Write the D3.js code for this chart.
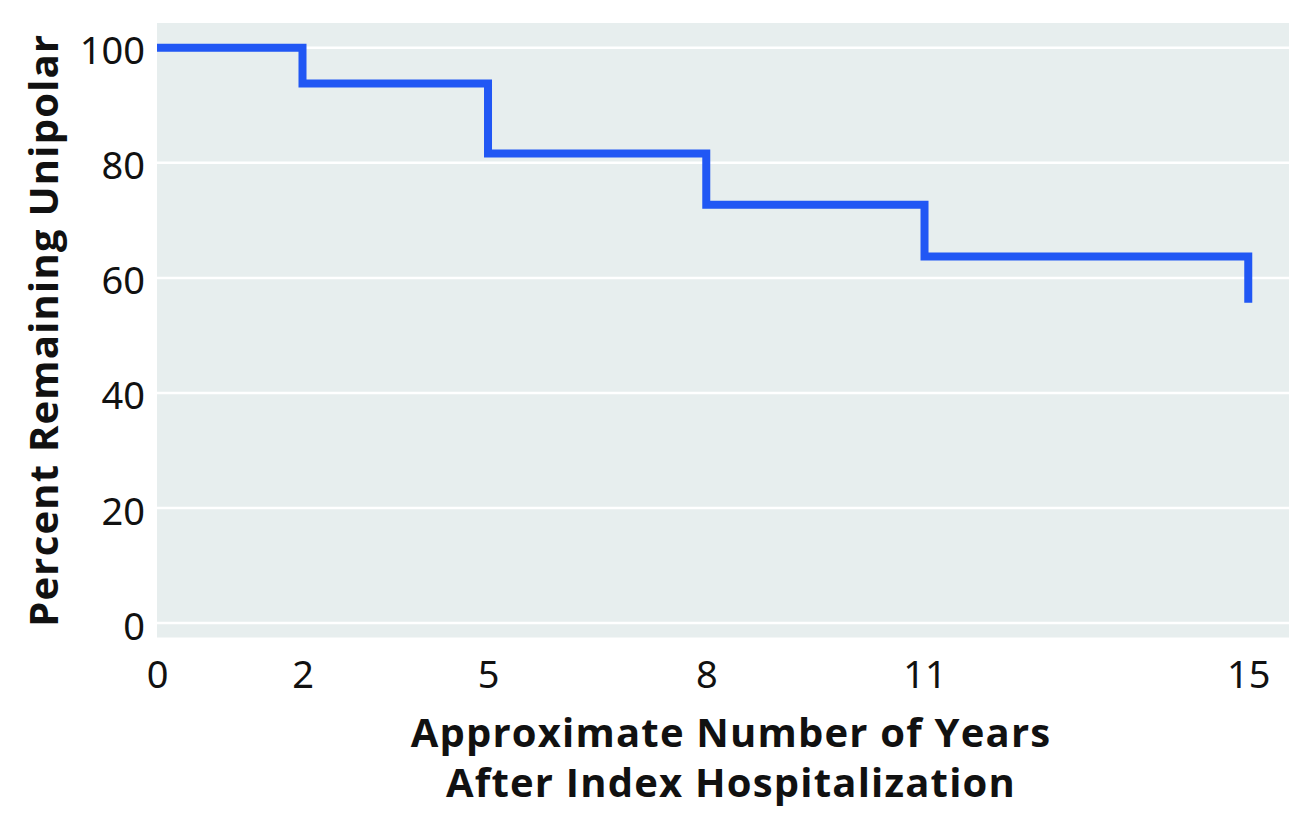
<!DOCTYPE html>
<html>
<head>
<meta charset="utf-8">
<script src="https://cdn.jsdelivr.net/npm/d3@7"></script>
<style>
  html, body { margin: 0; padding: 0; background: #ffffff; }
  svg { display: block; }
</style>
</head>
<body>
<svg id="chart" width="1309" height="830"></svg>
<script>
// ---- data ----
const years = [0, 2, 4.55, 7.55, 10.55, 15];          // approximate step positions
const percentUnipolar = [100, 93.8, 81.6, 72.7, 63.7, 55.7];
const xTickValues = [0, 2, 4.55, 7.55, 10.55, 15];
const xTickLabels = ["0", "2", "5", "8", "11", "15"];
const yTickValues = [0, 20, 40, 60, 80, 100];
const xTitleLines = ["Approximate Number of Years", "After Index Hospitalization"];
const yTitle = "Percent Remaining Unipolar";

// ---- layout ----
const plot = { left: 157, right: 1289, top: 23, bottom: 637.5 };
const svg = d3.select("#chart");

const x = d3.scaleLinear().domain([0, 15.56]).range([plot.left, plot.right]);
const y = d3.scaleLinear().domain([-2.5, 104.3]).range([plot.bottom, plot.top]);

const tickFont = "'Noto Sans', sans-serif";

// background
svg.append("rect")
  .attr("x", plot.left).attr("y", plot.top)
  .attr("width", plot.right - plot.left).attr("height", plot.bottom - plot.top)
  .attr("fill", "#e7eeee");

// gridlines
svg.append("g").selectAll("line").data(yTickValues).join("line")
  .attr("x1", plot.left).attr("x2", plot.right)
  .attr("y1", d => y(d)).attr("y2", d => y(d))
  .attr("stroke", "#ffffff").attr("stroke-width", 2.5);

// y axis labels
const yAxis = d3.axisLeft(y).tickValues(yTickValues).tickSize(0).tickPadding(12);
const gy = svg.append("g").attr("transform", `translate(${plot.left},0)`).call(yAxis);
gy.select(".domain").remove();
gy.selectAll("text")
  .attr("font-family", tickFont).attr("font-size", 38).attr("fill", "#111")
  .attr("dy", "0.42em");

// x axis labels
const xAxis = d3.axisBottom(x).tickValues(xTickValues)
  .tickFormat((d, i) => xTickLabels[i]).tickSize(0).tickPadding(0);
const gx = svg.append("g").attr("transform", `translate(0,${plot.bottom})`).call(xAxis);
gx.select(".domain").remove();
gx.selectAll("text")
  .attr("font-family", tickFont).attr("font-size", 38).attr("fill", "#111")
  .attr("dy", null).attr("y", 50);

// step line
const line = d3.line()
  .x((d, i) => x(years[i]))
  .y(d => y(d))
  .curve(d3.curveStepAfter);
svg.append("path")
  .datum(percentUnipolar)
  .attr("d", line)
  .attr("fill", "none")
  .attr("stroke", "#2157f4")
  .attr("stroke-width", 8)
  .attr("stroke-linejoin", "miter")
  .attr("stroke-linecap", "butt");

// x title
const xt = svg.append("text")
  .attr("text-anchor", "middle")
  .attr("font-family", "'Open Sans', sans-serif")
  .attr("font-weight", 700)
  .attr("font-size", 40)
  .attr("letter-spacing", 1.2)
  .attr("fill", "#111");
xt.selectAll("tspan").data(xTitleLines).join("tspan")
  .attr("x", 731)
  .attr("y", (d, i) => 747 + i * 50)
  .text(d => d);

// y title
svg.append("text")
  .attr("transform", `translate(58,${(plot.top + plot.bottom) / 2}) rotate(-90)`)
  .attr("text-anchor", "middle")
  .attr("font-family", "'Open Sans', sans-serif")
  .attr("font-weight", 700)
  .attr("font-size", 40)
  .attr("letter-spacing", 1.2)
  .attr("fill", "#111")
  .text(yTitle);
</script>
</body>
</html>
